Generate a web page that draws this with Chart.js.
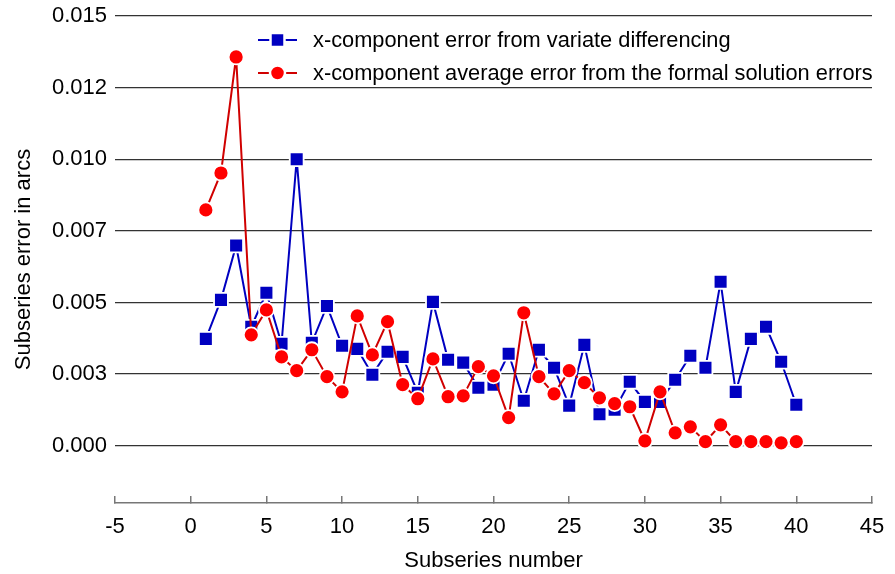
<!DOCTYPE html>
<html>
<head>
<meta charset="utf-8">
<script src="https://cdn.jsdelivr.net/npm/chart.js@4"></script>
<style>
  html, body { margin: 0; padding: 0; background: #fff; }
  #wrap { width: 895px; height: 574px; }
</style>
</head>
<body>
<div id="wrap"><canvas id="line-chart" width="895" height="574"></canvas></div>
<script>
// subseries numbers on the x axis
var subseries = [1, 2, 3, 4, 5, 6, 7, 8, 9, 10, 11, 12, 13, 14, 15, 16, 17, 18, 19, 20,
  21, 22, 23, 24, 25, 26, 27, 28, 29, 30, 31, 32, 33, 34, 35, 36, 37, 38, 39, 40];

// x-component error from variate differencing (blue squares)
var diffErr = [0.00373, 0.00509, 0.00699, 0.00415, 0.00534, 0.00356, 0.0100, 0.00359, 0.00488, 0.00349,
  0.00338, 0.00248, 0.00328, 0.0031, 0.00185, 0.00502, 0.0030, 0.0029, 0.00202, 0.00213,
  0.00321, 0.00157, 0.00335, 0.00272, 0.0014, 0.00352, 0.0011, 0.00126, 0.00223, 0.00153,
  0.00153, 0.0023, 0.00314, 0.00272, 0.00572, 0.00188, 0.00373, 0.00415, 0.00293, 0.00143];

// x-component average error from the formal solution errors (red circles)
var formalErr = [0.00823, 0.00952, 0.01357, 0.00387, 0.00474, 0.0031, 0.00262, 0.00335, 0.00241, 0.00188,
  0.00453, 0.00317, 0.00433, 0.00213, 0.00164, 0.00303, 0.00171, 0.00174, 0.00276, 0.00244,
  0.00098, 0.00464, 0.00241, 0.00181, 0.00262, 0.0022, 0.00167, 0.00147, 0.00136, 0.00017,
  0.00188, 0.00045, 0.00066, 0.00014, 0.00073, 0.00014, 0.00014, 0.00014, 0.0001, 0.00014];

var legendLabels = ["x-component error from variate differencing",
  "x-component average error from the formal solution errors"];

// y tick values and the labels the original shows for them
var yTickValues = [0, 0.0025, 0.005, 0.0075, 0.01, 0.0125, 0.015];
var yTickLabels = ["0.000", "0.003", "0.005", "0.007", "0.010", "0.012", "0.015"];

var FONT = "'Liberation Sans', Arial, sans-serif";

function toPoints(ys) {
  return subseries.map(function (x, i) { return { x: x, y: ys[i] }; });
}

// legend drawn inside the plot, like the original
var innerLegend = {
  id: "innerLegend",
  afterDraw: function (chart) {
    var ctx = chart.ctx;
    var rows = [chart.data.datasets[0], chart.data.datasets[1]];
    ctx.save();
    rows.forEach(function (ds, i) {
      var y = 40 + i * 33;
      ctx.strokeStyle = ds.borderColor;
      ctx.lineWidth = 2;
      ctx.beginPath();
      ctx.moveTo(258, y);
      ctx.lineTo(297, y);
      ctx.stroke();
      ctx.fillStyle = ds.pointBackgroundColor;
      ctx.strokeStyle = "#fff";
      ctx.lineWidth = 2.5;
      ctx.beginPath();
      if (ds.pointStyle === "rect") {
        ctx.rect(277.5 - 7, y - 7, 14, 14);
      } else {
        ctx.arc(277.5, y, 7.5, 0, Math.PI * 2);
      }
      ctx.fill();
      ctx.stroke();
      ctx.fillStyle = "#000";
      ctx.font = "21.8px " + FONT;
      ctx.textBaseline = "middle";
      ctx.textAlign = "left";
      ctx.fillText(legendLabels[i], 313, y + 1);
    });
    ctx.restore();
  }
};

var line_ctx = document.getElementById("line-chart").getContext("2d");
var line_chart = new Chart(line_ctx, {
  type: "line",
  data: {
    datasets: [
      {
        label: legendLabels[0],
        data: toPoints(diffErr),
        borderColor: "#0000c0",
        borderWidth: 2,
        pointStyle: "rect",
        pointRadius: 9.8,
        pointBackgroundColor: "#0000c0",
        pointBorderColor: "#fff",
        pointBorderWidth: 1.8,
        order: 2,
      },
      {
        label: legendLabels[1],
        data: toPoints(formalErr),
        borderColor: "#d00000",
        borderWidth: 2,
        pointStyle: "circle",
        pointRadius: 7.5,
        pointBackgroundColor: "#ff0000",
        pointBorderColor: "#fff",
        pointBorderWidth: 1.8,
        order: 1,
      },
    ],
  },
  options: {
    responsive: false,
    animation: false,
    layout: { padding: { top: 16, right: 23, left: 0, bottom: 0 } },
    plugins: {
      legend: { display: false },
      tooltip: { enabled: false },
    },
    scales: {
      x: {
        type: "linear",
        min: -5,
        max: 45,
        afterFit: function (scale) {
          scale.height = 71;
          scale.paddingLeft = 0;
          scale.paddingRight = 0;
        },
        ticks: {
          stepSize: 5,
          color: "#000",
          padding: 18,
          font: { family: FONT, size: 22 },
        },
        grid: {
          drawOnChartArea: false,
          drawTicks: true,
          tickLength: -7,
          color: "#777",
          lineWidth: 1.5,
        },
        border: { display: true, color: "#777", width: 1.5 },
        title: {
          display: true,
          text: "Subseries number",
          color: "#000",
          padding: { top: 0, bottom: 0 },
          font: { family: FONT, size: 22 },
        },
      },
      y: {
        min: -0.002,
        max: 0.015,
        afterFit: function (scale) {
          scale.width = 115;
          scale.paddingTop = 0;
          scale.paddingBottom = 0;
        },
        afterBuildTicks: function (scale) {
          scale.ticks = yTickValues.map(function (v) { return { value: v }; });
        },
        ticks: {
          color: "#000",
          padding: 8,
          font: { family: FONT, size: 22 },
          callback: function (value) {
            var i = yTickValues.indexOf(value);
            return i >= 0 ? yTickLabels[i] : "";
          },
        },
        grid: { color: "#333", lineWidth: 1.2, drawTicks: false },
        border: { display: false },
        title: {
          display: true,
          text: "Subseries error in arcs",
          color: "#000",
          padding: { top: 11, bottom: 0 },
          font: { family: FONT, size: 22 },
        },
      },
    },
  },
  plugins: [innerLegend],
});
</script>
</body>
</html>
